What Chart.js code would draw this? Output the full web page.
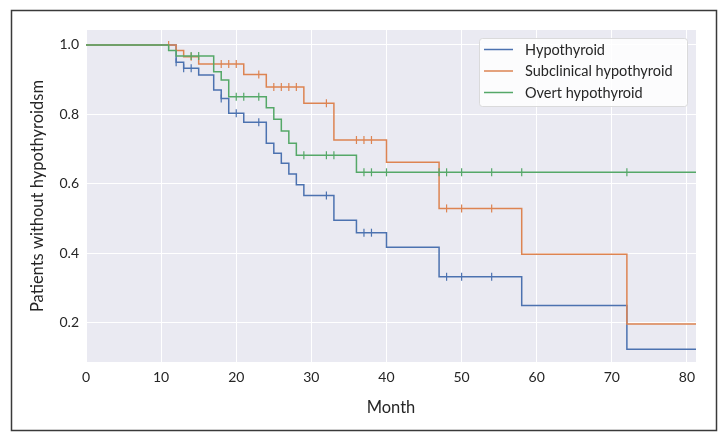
<!DOCTYPE html>
<html>
<head>
<meta charset="utf-8">
<script src="https://cdn.jsdelivr.net/npm/chart.js@4.4.1/dist/chart.umd.min.js"></script>
<style>
  html, body { margin: 0; padding: 0; background: #ffffff; }
  #wrap { width: 727px; height: 440px; position: relative; }
</style>
</head>
<body>
<div id="wrap"><canvas id="c" width="727" height="440"></canvas></div>
<script>
// ---- data (Kaplan-Meier steps) ----
const seriesNames = ["Hypothyroid", "Subclinical hypothyroid", "Overt hypothyroid"];

const hypoTimes = [0, 12, 13, 15, 17, 18, 19, 21, 24, 25, 26, 27, 28, 29, 33, 36, 40, 47, 58, 72, 82];
const hypoSurv  = [1.0, 0.950, 0.933, 0.913, 0.870, 0.846, 0.803, 0.777, 0.717, 0.688, 0.659, 0.628, 0.597, 0.566, 0.495, 0.459, 0.417, 0.332, 0.249, 0.123, 0.123];
const hypoCensor = [12, 13, 14, 18, 20, 23, 32, 37, 38, 48, 50, 54];

const subTimes = [0, 12, 13, 15, 21, 24, 29, 33, 40, 47, 58, 72, 82];
const subSurv  = [1.0, 0.984, 0.966, 0.945, 0.915, 0.879, 0.832, 0.726, 0.662, 0.529, 0.397, 0.196, 0.196];
const subCensor = [11, 14, 18, 19, 20, 23, 25, 26, 27, 28, 32, 36, 37, 38, 48, 50, 54];

const overtTimes = [0, 11, 12, 17, 18, 19, 24, 25, 26, 27, 28, 36, 82];
const overtSurv  = [1.0, 0.984, 0.968, 0.923, 0.899, 0.851, 0.819, 0.786, 0.752, 0.717, 0.682, 0.633, 0.633];
const overtCensor = [14, 15, 20, 21, 23, 29, 32, 33, 37, 38, 40, 47, 48, 50, 54, 58, 72];

const xTicks = [0, 10, 20, 30, 40, 50, 60, 70, 80];
const yTicks = [0.2, 0.4, 0.6, 0.8, 1.0];

const colors = ["#4C72B0", "#DD8452", "#55A868"];

// ---- helpers ----
function steps(times, surv) { return times.map((t, i) => ({ x: t, y: surv[i] })); }
function survAt(times, surv, t) {
  let v = surv[0];
  for (let i = 0; i < times.length; i++) { if (times[i] <= t) v = surv[i]; }
  return v;
}
function censorPts(cens, times, surv) { return cens.map(t => ({ x: t, y: survAt(times, surv, t) })); }

const groups = [
  [hypoTimes, hypoSurv, hypoCensor],
  [subTimes, subSurv, subCensor],
  [overtTimes, overtSurv, overtCensor]
];

const datasets = [];
groups.forEach((g, i) => {
  datasets.push({
    label: seriesNames[i], data: steps(g[0], g[1]), stepped: 'before',
    borderColor: colors[i], borderWidth: 1.5, pointRadius: 0, fill: false, showLine: true, order: 3 - i
  });
});
groups.forEach((g, i) => {
  datasets.push({
    label: seriesNames[i] + " censored", data: censorPts(g[2], g[0], g[1]), showLine: false,
    pointStyle: 'line', rotation: 90, pointRadius: 4, pointBorderWidth: 1.2,
    borderColor: colors[i], backgroundColor: colors[i], pointHoverRadius: 4, order: 3 - i
  });
});

const bgPlugin = {
  id: 'bg',
  beforeDraw(chart) {
    const { ctx, chartArea: a } = chart;
    ctx.save();
    ctx.fillStyle = '#EAEAF2';
    ctx.fillRect(a.left, a.top, a.right - a.left, a.bottom - a.top);
    ctx.restore();
  },
  afterDraw(chart) {
    const ctx = chart.ctx;
    ctx.save();
    ctx.strokeStyle = '#3a3a3a';
    ctx.lineWidth = 1.5;
    ctx.strokeRect(11.5, 10.5, 705, 420);
    ctx.restore();
  }
};

const legendPlugin = {
  id: 'innerLegend',
  afterDatasetsDraw(chart) {
    const { ctx, chartArea: a } = chart;
    const w = 208, h = 68;
    const x0 = a.right - 9 - w, y0 = a.top + 8;
    ctx.save();
    ctx.beginPath();
    if (ctx.roundRect) ctx.roundRect(x0 + 0.5, y0 + 0.5, w, h, 3); else ctx.rect(x0 + 0.5, y0 + 0.5, w, h);
    ctx.fillStyle = 'rgba(255,255,255,0.85)';
    ctx.fill();
    ctx.strokeStyle = 'rgba(215,215,215,0.9)';
    ctx.lineWidth = 1;
    ctx.stroke();
    ctx.font = '14.5px Lato, "Open Sans", sans-serif';
    ctx.textBaseline = 'middle';
    ctx.textAlign = 'left';
    seriesNames.forEach((n, i) => {
      const yy = y0 + 11.5 + i * 21.5;
      ctx.strokeStyle = colors[i];
      ctx.lineWidth = 1.5;
      ctx.beginPath();
      ctx.moveTo(x0 + 5, yy);
      ctx.lineTo(x0 + 34, yy);
      ctx.stroke();
      ctx.fillStyle = '#262626';
      ctx.fillText(n, x0 + 46, yy + 0.5);
    });
    ctx.restore();
  }
};

new Chart(document.getElementById('c'), {
  type: 'scatter',
  data: { datasets },
  plugins: [bgPlugin, legendPlugin],
  options: {
    responsive: false,
    animation: false,
    events: [],
    layout: { padding: { left: 0, right: 31, top: 30, bottom: 0 } },
    plugins: { legend: { display: false }, tooltip: { enabled: false } },
    scales: {
      x: {
        type: 'linear', min: 0, max: 81.2,
        afterBuildTicks(s) { s.ticks = xTicks.map(v => ({ value: v })); },
        afterFit(s) { s.height = 78; },
        border: { display: false },
        grid: { color: '#ffffff', lineWidth: 1, drawTicks: false },
        ticks: { color: '#262626', padding: 7, font: { family: 'Lato, "Open Sans", sans-serif', size: 14 } },
        title: { display: true, text: 'Month', color: '#262626', padding: { top: 22, bottom: 22 },
                 font: { family: 'Lato, "Open Sans", sans-serif', size: 16.5 } }
      },
      y: {
        type: 'linear', min: 0.0865, max: 1.043,
        afterBuildTicks(s) { s.ticks = yTicks.map(v => ({ value: v })); },
        afterFit(s) { s.width = 86; },
        border: { display: false },
        grid: { color: '#ffffff', lineWidth: 1, drawTicks: false },
        ticks: { color: '#262626', padding: 7, font: { family: 'Lato, "Open Sans", sans-serif', size: 14 },
                 callback: v => v.toFixed(1) },
        title: { display: true, text: 'Patients without hypothyroidsm', color: '#262626', padding: { top: 28, bottom: 28 },
                 font: { family: 'Lato, "Open Sans", sans-serif', size: 16.5 } }
      }
    }
  }
});
</script>
</body>
</html>
